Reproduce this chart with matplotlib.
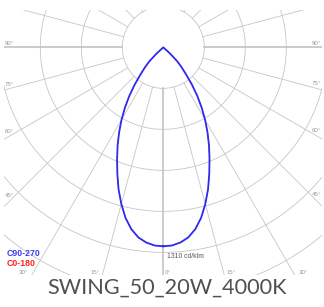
import numpy as np
import matplotlib
matplotlib.use("Agg")
import matplotlib.pyplot as plt

# light distribution, cd/klm, gamma angle from nadir (deg)
gamma = [0, 2.5, 5, 7.5, 10, 12.5, 15, 17.5, 20, 22.5, 25, 27.5, 30,
         32.5, 35, 37.5, 40, 42.5, 45, 47.5, 50]
c90_270 = [1310, 1306, 1290, 1262, 1215, 1150, 1068, 980, 885, 795, 712,
           630, 550, 470, 390, 310, 235, 180, 130, 60, 0]
c0_180 = [1310, 1306, 1290, 1262, 1215, 1150, 1068, 980, 885, 795, 712,
          630, 550, 470, 390, 310, 235, 180, 130, 60, 0]
max_value = 1310
ring_step = 270
ring_count = 7
ray_angles = np.arange(0, 360, 15)
side_labels = [90, 75, 60, 45]
bottom_labels = [30, 15, 0, 15, 30]
title = "SWING_50_20W_4000K"

W, H = 324, 307
fig = plt.figure(figsize=(W / 100, H / 100), dpi=100)
# plot box in pixels: x 4..322, y 10..275 (from top)
ax = fig.add_axes([4 / W, (H - 275) / H, 318 / W, 265 / H])
ax.set_xlim(-1049, 1045)
ax.set_ylim(-1499, 246)
ax.set_axis_off()

grid_col = "#c6c6c6"


def to_xy(r, ang, side=1):
    a = np.radians(ang)
    return side * np.asarray(r) * np.sin(a), -np.asarray(r) * np.cos(a)


# rings
t = np.linspace(0, 2 * np.pi, 400)
for k in range(1, ring_count + 1):
    ax.plot(k * ring_step * np.cos(t), k * ring_step * np.sin(t),
            color=grid_col, lw=0.6, zorder=1)

# rays
for a in ray_angles:
    x, y = to_xy([ring_step, 4000], a)
    main = a % 90 == 0
    ax.plot(x, y, color="#bdbdbd" if main else grid_col,
            lw=1.1 if main else 0.6, zorder=1)

# curves (C0-180 sits under C90-270)
for vals, col, lw in [(c0_180, "#ff2a2a", 0.5), (c90_270, "#2f2bf0", 1.3)]:
    g = np.array(gamma + gamma[::-1][1:])
    r = np.array(vals + vals[::-1][1:])
    side = np.array([-1] * len(gamma) + [1] * (len(gamma) - 1))
    x, y = to_xy(r, g)
    ax.plot(x * side, y, color=col, lw=lw, zorder=3, solid_joinstyle="round")

ax.annotate(f"{max_value} cd/klm", xy=(0, -max_value), xytext=(4, -10),
            textcoords="offset pixels", fontsize=4.9, color="#555555",
            family="Liberation Sans", va="center", ha="left")

lab_kw = dict(textcoords="offset pixels", fontsize=4.4, color="#9a9a9a",
              family="Liberation Sans")
xmin, xmax = ax.get_xlim()
ymin, ymax = ax.get_ylim()
for a in side_labels:
    cot = np.cos(np.radians(a)) / np.sin(np.radians(a))
    off = 1.5 + 7.5 * cot
    ax.annotate(f"{a}°", xy=(xmin, xmin * cot), xytext=(1, off),
                ha="left", va="bottom", **lab_kw)
    ax.annotate(f"{a}°", xy=(xmax, -xmax * cot), xytext=(-1, off),
                ha="right", va="bottom", **lab_kw)
for i, a in enumerate(bottom_labels):
    tn = np.tan(np.radians(a))
    side = -1 if i < 2 else 1
    x = side * (-ymin) * tn
    off = 1.8 + 3.5 * tn
    if side < 0:
        ax.annotate(f"{a}°", xy=(x, ymin), xytext=(-off, 0.5),
                    ha="right", va="bottom", **lab_kw)
    else:
        ax.annotate(f"{a}°", xy=(x, ymin), xytext=(off, 0.5),
                    ha="left", va="bottom", **lab_kw)

fig.text(7 / W, 1 - 254 / H, "C90-270", color="#3b3bf5", fontsize=6.3,
         fontweight="bold", family="Liberation Sans", va="center")
fig.text(7 / W, 1 - 263 / H, "C0-180", color="#ff2222", fontsize=6.3,
         fontweight="bold", family="Liberation Sans", va="center")

fig.text(167.5 / W, 1 - 288 / H, title, color="#505050", fontsize=15.6,
         family="Lato", fontweight="normal", ha="center", va="center")

fig.savefig("out.png", dpi=100, facecolor="white")
